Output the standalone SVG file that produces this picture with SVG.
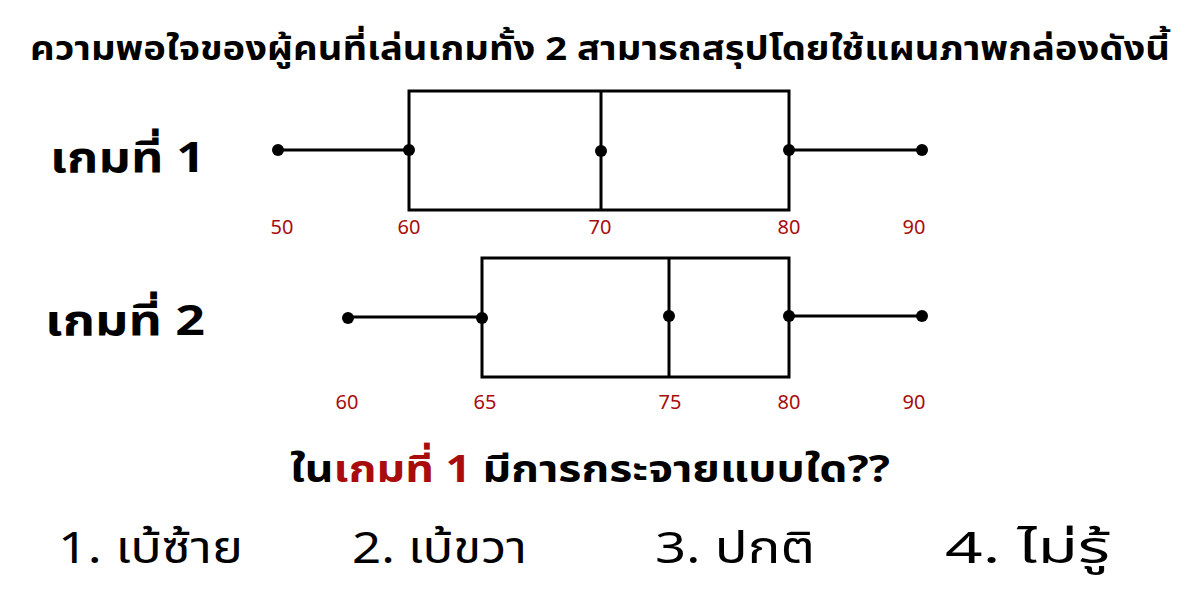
<svg xmlns="http://www.w3.org/2000/svg" width="1200" height="600" viewBox="0 0 1200 600">
<style>
.t{font-family:"Noto Sans Thai","Noto Sans","DejaVu Sans",sans-serif;fill:#000}
.b{font-weight:bold}
.r{fill:#a80c0c}
.n{font-family:"Noto Sans","DejaVu Sans",sans-serif;font-size:20px;fill:#a80c0c;text-anchor:middle}
.ln{stroke:#000;stroke-width:3;fill:none}
.dot{fill:#000}
</style>
<rect width="1200" height="600" fill="#fff"/>
<text id="title" class="t b" x="600" y="60" font-size="33" text-anchor="middle" textLength="1140" lengthAdjust="spacingAndGlyphs">ความพอใจของผู้คนที่เล่นเกมทั้ง 2 สามารถสรุปโดยใช้แผนภาพกล่องดังนี้</text>
<g id="game1">
<text class="t b" x="50" y="172" font-size="42" textLength="155" lengthAdjust="spacingAndGlyphs">เกมที่ 1</text>
<rect class="ln" x="409" y="91" width="380" height="119"/>
<line class="ln" x1="601" y1="91" x2="601" y2="210"/>
<line class="ln" x1="278" y1="150" x2="409" y2="150"/>
<line class="ln" x1="789" y1="150" x2="922" y2="150"/>
<circle class="dot" cx="278" cy="150" r="6"/>
<circle class="dot" cx="409" cy="150" r="6"/>
<circle class="dot" cx="601" cy="151" r="6"/>
<circle class="dot" cx="789" cy="150" r="6"/>
<circle class="dot" cx="922" cy="150" r="6"/>
<text class="n" x="282" y="234">50</text>
<text class="n" x="409" y="234">60</text>
<text class="n" x="600" y="234">70</text>
<text class="n" x="789" y="234">80</text>
<text class="n" x="914" y="234">90</text>
</g>
<g id="game2">
<text class="t b" x="45" y="335" font-size="42" textLength="160" lengthAdjust="spacingAndGlyphs">เกมที่ 2</text>
<rect class="ln" x="482" y="258" width="307" height="119"/>
<line class="ln" x1="669" y1="258" x2="669" y2="377"/>
<line class="ln" x1="348" y1="317" x2="482" y2="317"/>
<line class="ln" x1="789" y1="316" x2="922" y2="316"/>
<circle class="dot" cx="348" cy="318" r="6"/>
<circle class="dot" cx="482" cy="318" r="6"/>
<circle class="dot" cx="669" cy="316" r="6"/>
<circle class="dot" cx="789" cy="316" r="6"/>
<circle class="dot" cx="922" cy="316" r="6"/>
<text class="n" x="347" y="409">60</text>
<text class="n" x="485" y="409">65</text>
<text class="n" x="670" y="409">75</text>
<text class="n" x="789" y="409">80</text>
<text class="n" x="914" y="409">90</text>
</g>
<g id="question">
<text class="t b" x="290" y="482" font-size="38" textLength="600" lengthAdjust="spacingAndGlyphs">ใน<tspan class="r">เกมที่ 1</tspan> มีการกระจายแบบใด??</text>
</g>
<g id="options">
<text class="t" x="58" y="563" font-size="44" textLength="185" lengthAdjust="spacingAndGlyphs">1. เบ้ซ้าย</text>
<text class="t" x="352" y="563" font-size="44" textLength="175" lengthAdjust="spacingAndGlyphs">2. เบ้ขวา</text>
<text class="t" x="655" y="563" font-size="44" textLength="160" lengthAdjust="spacingAndGlyphs">3.  ปกติ</text>
<text class="t" x="945" y="563" font-size="44" textLength="165" lengthAdjust="spacingAndGlyphs">4.  ไม่รู้</text>
</g>
</svg>
